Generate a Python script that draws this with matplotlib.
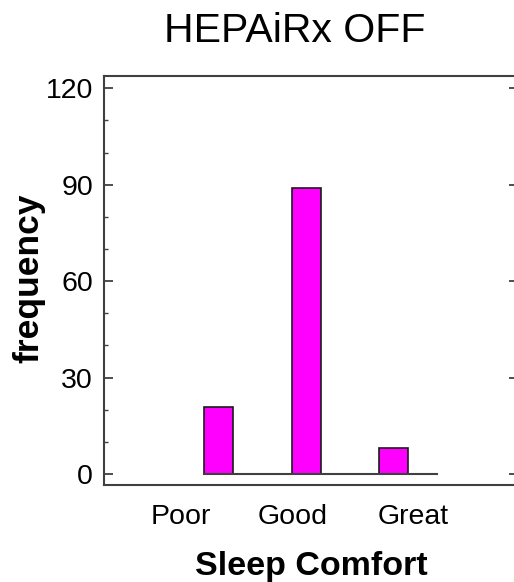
import matplotlib
matplotlib.use("Agg")
import matplotlib.pyplot as plt
from matplotlib.ticker import MultipleLocator

# ---- data ----
categories = ["Poor", "Good", "Great"]
frequency = [21, 89, 8]
title = "HEPAiRx OFF"
xlabel = "Sleep Comfort"
ylabel = "frequency"
yticks = [0, 30, 60, 90, 120]

# ---- layout ----
W, H = 514, 582
bar_pos = [0, 1, 2]
label_pos = [-0.43, 0.85, 2.22]
bar_width = 0.33

plt.rcParams['font.family'] = ['Liberation Sans', 'DejaVu Sans']

fig = plt.figure(figsize=(W / 100, H / 100), dpi=100)
ax = fig.add_axes([104 / W, 1 - 485 / H, (518 - 104) / W, (485 - 76) / H])

ax.bar(bar_pos, frequency, width=bar_width, color="#FF00FF",
       edgecolor="#1a1a1a", linewidth=1.2, zorder=3)
ax.plot([bar_pos[0] - bar_width / 2, bar_pos[-1] + bar_width / 2 + bar_width],
        [0, 0], color="#404040", linewidth=1.5, zorder=4)

ax.set_xlim(-1.309, 3.42)
ax.set_ylim(-3.4, 123.8)

ax.set_yticks(yticks)
ax.yaxis.set_minor_locator(MultipleLocator(10))
ax.tick_params(axis='y', which='major', direction='in', length=6.5, width=1.3,
               color="#404040", labelsize=20.5, pad=8, right=True)
ax.tick_params(axis='y', which='minor', direction='in', length=3, width=1.0,
               color="#404040", right=True)

ax.set_xticks(label_pos)
ax.set_xticklabels(categories)
ax.tick_params(axis='x', which='both', length=0, labelsize=20.5, pad=14)

for s in ax.spines.values():
    s.set_color("#404040")
    s.set_linewidth(1.5)

fig.text(295 / W, 1 - 31 / H, title, fontsize=29.5, ha='center', va='center')
fig.text(311.7 / W, 1 - 566 / H, xlabel, fontsize=24.5, fontweight='bold',
         ha='center', va='center')
fig.text(29 / W, 1 - 278 / H, ylabel, fontsize=25.5, fontweight='bold',
         rotation=90, ha='center', va='center')

fig.savefig("out.png", dpi=100)
